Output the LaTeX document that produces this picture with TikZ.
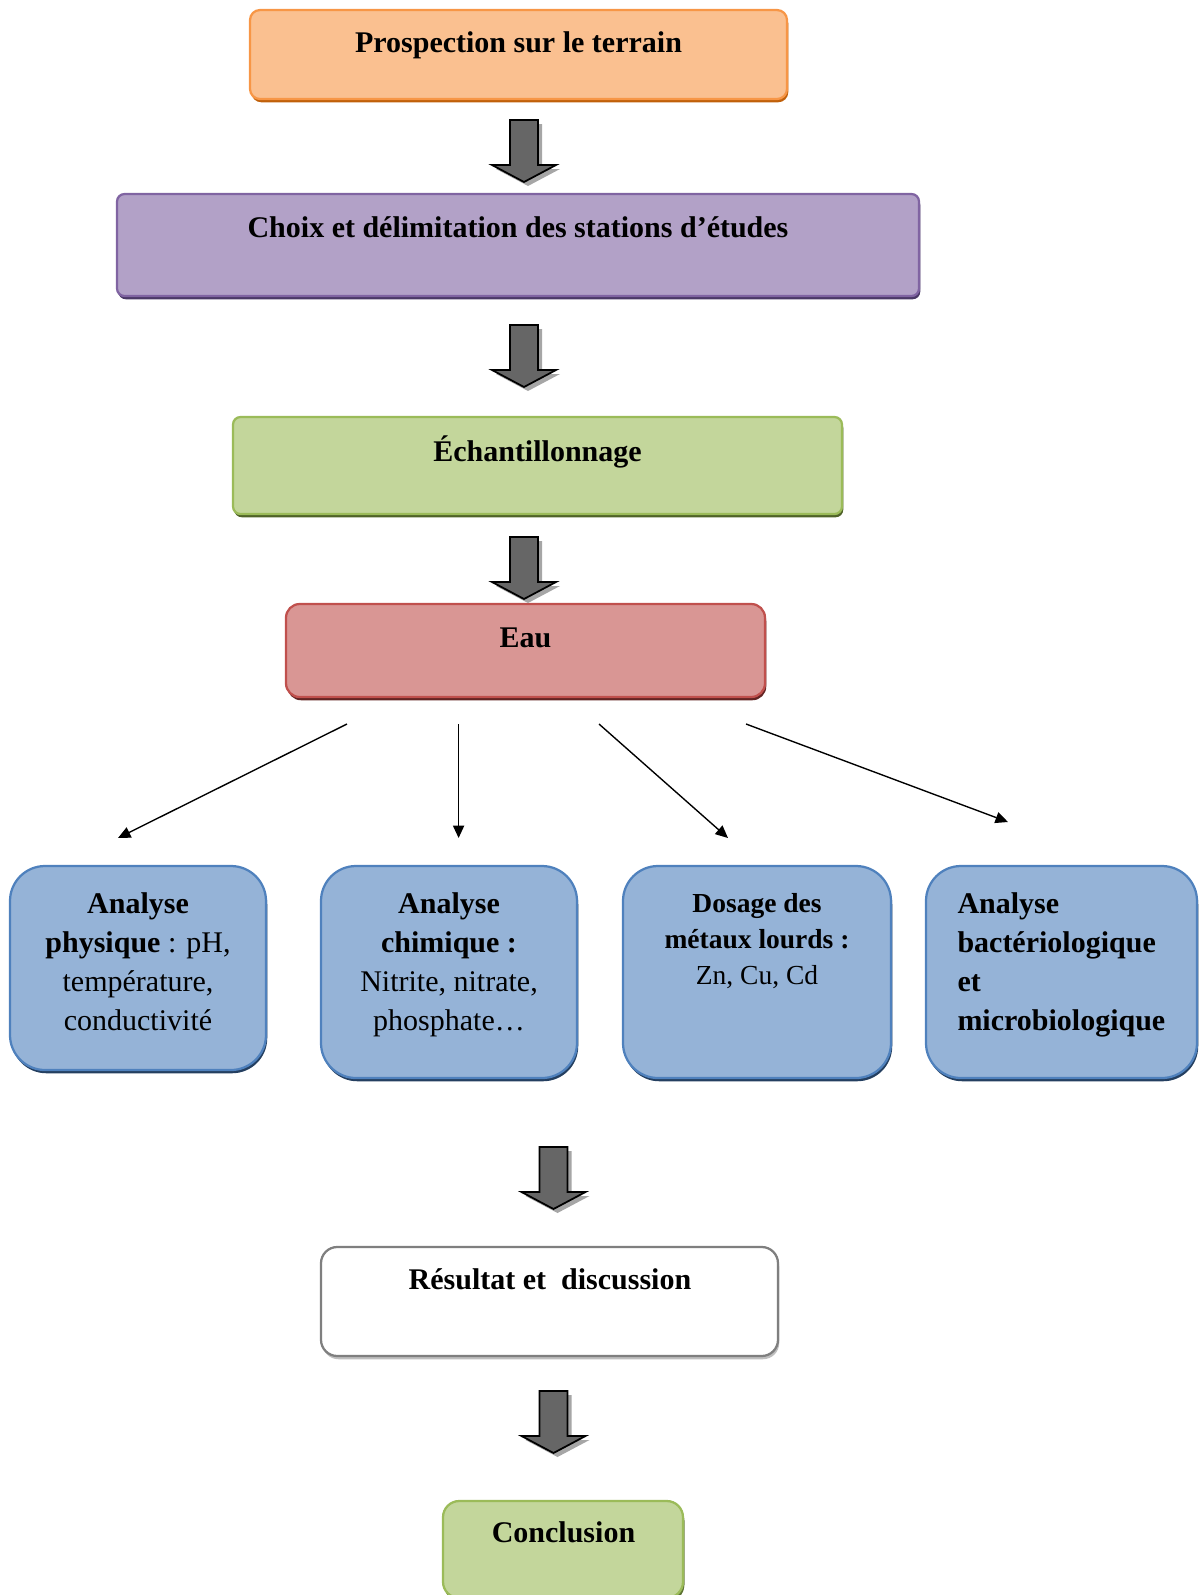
\documentclass[tikz,border=0pt]{standalone}
\usepackage{fontspec}
\setmainfont{Liberation Serif}
\usetikzlibrary{arrows.meta,shadows}

\definecolor{prospFond}{HTML}{FAC090}
\definecolor{prospBord}{HTML}{F79646}
\definecolor{prospOmbre}{HTML}{C0600A}
\definecolor{choixFond}{HTML}{B2A1C7}
\definecolor{choixBord}{HTML}{8064A2}
\definecolor{choixOmbre}{HTML}{4A3866}
\definecolor{vertFond}{HTML}{C3D69B}
\definecolor{vertBord}{HTML}{9BBB59}
\definecolor{vertOmbre}{HTML}{4F6228}
\definecolor{eauFond}{HTML}{D99694}
\definecolor{eauBord}{HTML}{C0504D}
\definecolor{eauOmbre}{HTML}{632423}
\definecolor{bleuFond}{HTML}{95B3D7}
\definecolor{bleuBord}{HTML}{4F81BD}
\definecolor{bleuOmbre}{HTML}{243F60}
\definecolor{grisBord}{HTML}{7F7F7F}
\definecolor{grisOmbre}{HTML}{BFBFBF}
\definecolor{flecheFond}{HTML}{666666}
\definecolor{flecheOmbre}{HTML}{A6A6A6}

\tikzset{
  taille/.style 2 args={minimum width=#1*0.4pt, minimum height=#2*0.4pt},
  etape/.style={line width=0.9pt, inner sep=0pt},
  ombre/.style={drop shadow={shadow xshift=0.5pt, shadow yshift=-1.3pt, fill=#1, opacity=1}},
  prospect/.style={etape, draw=prospBord, fill=prospFond, rounded corners=4pt, ombre=prospOmbre},
  choix/.style={etape, draw=choixBord, fill=choixFond, rounded corners=3pt, ombre=choixOmbre},
  vert/.style={etape, draw=vertBord, fill=vertFond, rounded corners=3pt, ombre=vertOmbre},
  rouge/.style={etape, draw=eauBord, fill=eauFond, rounded corners=5.5pt, ombre=eauOmbre},
  bleu/.style={etape, draw=bleuBord, fill=bleuFond, rounded corners=14pt, ombre=bleuOmbre},
  blanc/.style={etape, draw=grisBord, fill=white, rounded corners=6.5pt, ombre=grisOmbre},
  titre/.style={font=\fontsize{12}{15.6}\selectfont\bfseries, anchor=base, inner sep=0pt},
  texte/.style={font=\fontsize{12}{15.6}\selectfont, anchor=base, inner sep=0pt,
    text width=100pt, align=flush center},
  fleche/.style={->, line width=0.55pt},
  grossefleche/.pic={
    \fill[flecheOmbre] (-10,4) -- (18,4) -- (18,49) -- (36,49) -- (4,66) -- (-28,49) -- (-10,49) -- cycle;
    \filldraw[fill=flecheFond, draw=black, line width=0.7pt]
      (-14,0) -- (14,0) -- (14,45) -- (32,45) -- (0,62) -- (-32,45) -- (-14,45) -- cycle;
  }
}

\begin{document}
\begin{tikzpicture}[x=0.4pt, y=-0.4pt, >={Triangle[length=5pt,width=4.5pt]}]
\useasboundingbox (0,0) rectangle (1201,1595);

% etapes du haut
\node[prospect, taille={537}{89}] (prosp) at (518.5,54.5) {};
\node[titre] (prospT) at (518.5,52) {Prospection sur le terrain};
\node[choix, taille={802}{102}] (choix) at (518,245) {};
\node[titre] (choixT) at (518,237) {Choix et délimitation des stations d’études};
\node[vert, taille={609}{97}] (echant) at (537.5,465.5) {};
\node[titre] (echantT) at (537.5,461) {Échantillonnage};
\node[rouge, taille={479}{93}] (eau) at (525.5,650.5) {};
\node[titre] (eauT) at (525.5,647) {Eau};

\pic at (524,120) {grossefleche};
\pic at (524,325) {grossefleche};
\pic at (524,537) {grossefleche};

% analyses
\node[bleu, taille={256}{204}] (phys) at (138,968) {};
\node[texte] (physT) at (138,913) {\textbf{Analyse}\\ \textbf{physique} : pH,\\ température,\\ conductivité};
\node[bleu, taille={256}{212}] (chim) at (449,972) {};
\node[texte] (chimT) at (449,913) {\textbf{Analyse}\\ \textbf{chimique :}\\ Nitrite, nitrate,\\ phosphate…};
\node[bleu, taille={268}{212}] (metal) at (757,972) {};
\node[texte, font=\fontsize{11}{14.4}\selectfont] (metalT) at (757,912) {\textbf{Dosage des}\\ \textbf{métaux lourds :}\\ Zn, Cu, Cd};
\node[bleu, taille={271}{212}] (bact) at (1061.5,972) {};
\node[texte, font=\fontsize{12}{15.6}\selectfont\bfseries, anchor=base west, align=flush left] (bactT) at (957,913) {Analyse\\ bactériologique\\ et\\ microbiologique};

\coordinate (d1) at (347,724);  \coordinate (f1) at (118,838);
\coordinate (d2) at (458.6,724); \coordinate (f2) at (458.6,838);
\coordinate (d3) at (599,724);  \coordinate (f3) at (728,838);
\coordinate (d4) at (746,724);  \coordinate (f4) at (1008,822);
\draw[fleche] (d1) -- (f1);
\draw[fleche] (d2) -- (f2);
\draw[fleche] (d3) -- (f3);
\draw[fleche] (d4) -- (f4);

% etapes du bas
\pic at (553.5,1147) {grossefleche};
\node[blanc, taille={457}{109}] (result) at (549.5,1301.5) {};
\node[titre] (resultT) at (550,1289) {Résultat et\ \ discussion};
\pic at (553.5,1391) {grossefleche};
\node[vert, rounded corners=6.5pt, ombre=vertOmbre!80!vertBord, taille={240}{97}] (concl) at (563,1549.5) {};
\node[titre] (conclT) at (563.5,1542) {Conclusion};
\end{tikzpicture}
\end{document}
